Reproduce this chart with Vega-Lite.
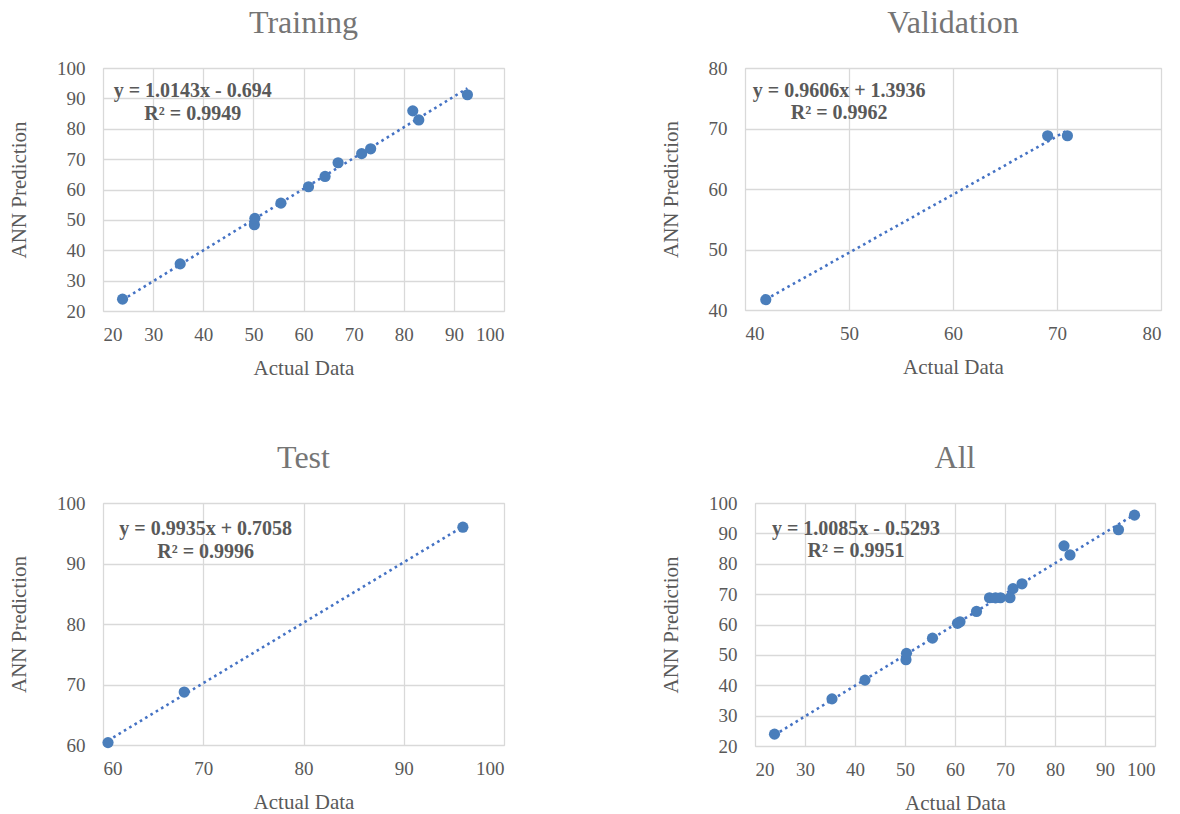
{
  "$schema": "https://vega.github.io/schema/vega-lite/v6.json",
  "padding": {"left": 8, "top": 6, "right": 5, "bottom": 5},
  "background": "white",
  "config": {
    "font": "Liberation Serif",
    "view": {"stroke": "#d9d9d9", "strokeWidth": 1},
    "axis": {
      "labelFont": "Liberation Serif", "labelFontSize": 19, "labelColor": "#595959",
      "titleFont": "Liberation Serif", "titleFontSize": 21, "titleColor": "#595959", "titleFontWeight": "normal",
      "ticks": false, "domain": false, "gridColor": "#d9d9d9", "gridWidth": 1.3
    },
    "axisX": {"labelPadding": 14, "titlePadding": 13},
    "axisY": {"titlePadding": 27, "labelPadding": 18},
    "title": {"font": "Liberation Serif", "fontSize": 32, "color": "#757575", "fontWeight": "normal", "offset": 19}
  },
  "datasets": {
    "pts": [
      {"set": "Training", "actual": 23.9, "pred": 23.9},
      {"set": "Training", "actual": 35.4, "pred": 35.5},
      {"set": "Training", "actual": 50.2, "pred": 48.4},
      {"set": "Training", "actual": 50.3, "pred": 50.5},
      {"set": "Training", "actual": 55.5, "pred": 55.5},
      {"set": "Training", "actual": 61.0, "pred": 60.9},
      {"set": "Training", "actual": 64.3, "pred": 64.3},
      {"set": "Training", "actual": 66.9, "pred": 68.8},
      {"set": "Training", "actual": 71.6, "pred": 71.8},
      {"set": "Training", "actual": 73.4, "pred": 73.4},
      {"set": "Training", "actual": 81.8, "pred": 85.9},
      {"set": "Training", "actual": 83.0, "pred": 82.9},
      {"set": "Training", "actual": 92.7, "pred": 91.2},
      {"set": "Validation", "actual": 42.0, "pred": 41.7},
      {"set": "Validation", "actual": 69.1, "pred": 68.8},
      {"set": "Validation", "actual": 71.0, "pred": 68.8},
      {"set": "Test", "actual": 60.5, "pred": 60.4},
      {"set": "Test", "actual": 68.1, "pred": 68.75},
      {"set": "Test", "actual": 95.9, "pred": 96.0}
    ],
    "eq": [
      {"panel": "Training", "actual": 37.9, "pred": 92.3, "label": "y = 1.0143x - 0.694"},
      {"panel": "Training", "actual": 37.9, "pred": 85.0, "label": "R² = 0.9949"},
      {"panel": "Validation", "actual": 49.05, "pred": 76.25, "label": "y = 0.9606x + 1.3936"},
      {"panel": "Validation", "actual": 49.05, "pred": 72.6, "label": "R² = 0.9962"},
      {"panel": "Test", "actual": 70.24, "pred": 95.7, "label": "y = 0.9935x + 0.7058"},
      {"panel": "Test", "actual": 70.24, "pred": 91.9, "label": "R² = 0.9996"},
      {"panel": "All", "actual": 40.2, "pred": 91.4, "label": "y = 1.0085x - 0.5293"},
      {"panel": "All", "actual": 40.2, "pred": 84.2, "label": "R² = 0.9951"}
    ]
  },
  "vconcat": [
    {
      "bounds": "flush",
      "spacing": 241,
      "hconcat": [
        {
          "title": "Training",
          "width": 401, "height": 243,
          "encoding": {
            "x": {"field": "actual", "type": "quantitative", "title": "Actual Data", "scale": {"domain": [20, 100]}, "axis": {"values": [20, 30, 40, 50, 60, 70, 80, 90, 100]}},
            "y": {"field": "pred", "type": "quantitative", "title": "ANN Prediction", "scale": {"domain": [20, 100]}, "axis": {"values": [20, 30, 40, 50, 60, 70, 80, 90, 100]}}
          },
          "layer": [
            {"data": {"name": "pts"}, "transform": [{"filter": "datum.set === 'Training'"}, {"regression": "pred", "on": "actual"}],
             "mark": {"type": "line", "color": "#4472c4", "strokeWidth": 2.6, "strokeDash": [2.6, 3.6]}},
            {"data": {"name": "pts"}, "transform": [{"filter": "datum.set === 'Training'"}],
             "mark": {"type": "circle", "color": "#4a7ebb", "opacity": 1, "size": 125}},
            {"data": {"name": "eq"}, "transform": [{"filter": "datum.panel === 'Training'"}],
             "mark": {"type": "text", "font": "Liberation Serif", "fontWeight": "bold", "fontSize": 20, "color": "#595959", "align": "center", "baseline": "middle"},
             "encoding": {"text": {"field": "label"}}}
          ]
        },
        {
          "title": "Validation",
          "width": 416, "height": 242,
          "encoding": {
            "x": {"field": "actual", "type": "quantitative", "title": "Actual Data", "scale": {"domain": [40, 80]}, "axis": {"values": [40, 50, 60, 70, 80]}},
            "y": {"field": "pred", "type": "quantitative", "title": "ANN Prediction", "scale": {"domain": [40, 80]}, "axis": {"values": [40, 50, 60, 70, 80]}}
          },
          "layer": [
            {"data": {"name": "pts"}, "transform": [{"filter": "datum.set === 'Validation'"}, {"regression": "pred", "on": "actual"}],
             "mark": {"type": "line", "color": "#4472c4", "strokeWidth": 2.6, "strokeDash": [2.6, 3.6]}},
            {"data": {"name": "pts"}, "transform": [{"filter": "datum.set === 'Validation'"}],
             "mark": {"type": "circle", "color": "#4a7ebb", "opacity": 1, "size": 125}},
            {"data": {"name": "eq"}, "transform": [{"filter": "datum.panel === 'Validation'"}],
             "mark": {"type": "text", "font": "Liberation Serif", "fontWeight": "bold", "fontSize": 20, "color": "#595959", "align": "center", "baseline": "middle"},
             "encoding": {"text": {"field": "label"}}}
          ]
        }
      ]
    },
    {
      "bounds": "flush",
      "spacing": 251,
      "hconcat": [
        {
          "title": "Test",
          "width": 401, "height": 242,
          "encoding": {
            "x": {"field": "actual", "type": "quantitative", "title": "Actual Data", "scale": {"domain": [60, 100]}, "axis": {"values": [60, 70, 80, 90, 100]}},
            "y": {"field": "pred", "type": "quantitative", "title": "ANN Prediction", "scale": {"domain": [60, 100]}, "axis": {"values": [60, 70, 80, 90, 100]}}
          },
          "layer": [
            {"data": {"name": "pts"}, "transform": [{"filter": "datum.set === 'Test'"}, {"regression": "pred", "on": "actual"}],
             "mark": {"type": "line", "color": "#4472c4", "strokeWidth": 2.6, "strokeDash": [2.6, 3.6]}},
            {"data": {"name": "pts"}, "transform": [{"filter": "datum.set === 'Test'"}],
             "mark": {"type": "circle", "color": "#4a7ebb", "opacity": 1, "size": 125}},
            {"data": {"name": "eq"}, "transform": [{"filter": "datum.panel === 'Test'"}],
             "mark": {"type": "text", "font": "Liberation Serif", "fontWeight": "bold", "fontSize": 20, "color": "#595959", "align": "center", "baseline": "middle"},
             "encoding": {"text": {"field": "label"}}}
          ]
        },
        {
          "title": "All",
          "width": 400, "height": 243,
          "encoding": {
            "x": {"field": "actual", "type": "quantitative", "title": "Actual Data", "scale": {"domain": [20, 100]}, "axis": {"values": [20, 30, 40, 50, 60, 70, 80, 90, 100]}},
            "y": {"field": "pred", "type": "quantitative", "title": "ANN Prediction", "scale": {"domain": [20, 100]}, "axis": {"values": [20, 30, 40, 50, 60, 70, 80, 90, 100]}}
          },
          "layer": [
            {"data": {"name": "pts"}, "transform": [{"regression": "pred", "on": "actual"}],
             "mark": {"type": "line", "color": "#4472c4", "strokeWidth": 2.6, "strokeDash": [2.6, 3.6]}},
            {"data": {"name": "pts"},
             "mark": {"type": "circle", "color": "#4a7ebb", "opacity": 1, "size": 125}},
            {"data": {"name": "eq"}, "transform": [{"filter": "datum.panel === 'All'"}],
             "mark": {"type": "text", "font": "Liberation Serif", "fontWeight": "bold", "fontSize": 20, "color": "#595959", "align": "center", "baseline": "middle"},
             "encoding": {"text": {"field": "label"}}}
          ]
        }
      ]
    }
  ],
  "spacing": 62,
  "bounds": "full"
}
